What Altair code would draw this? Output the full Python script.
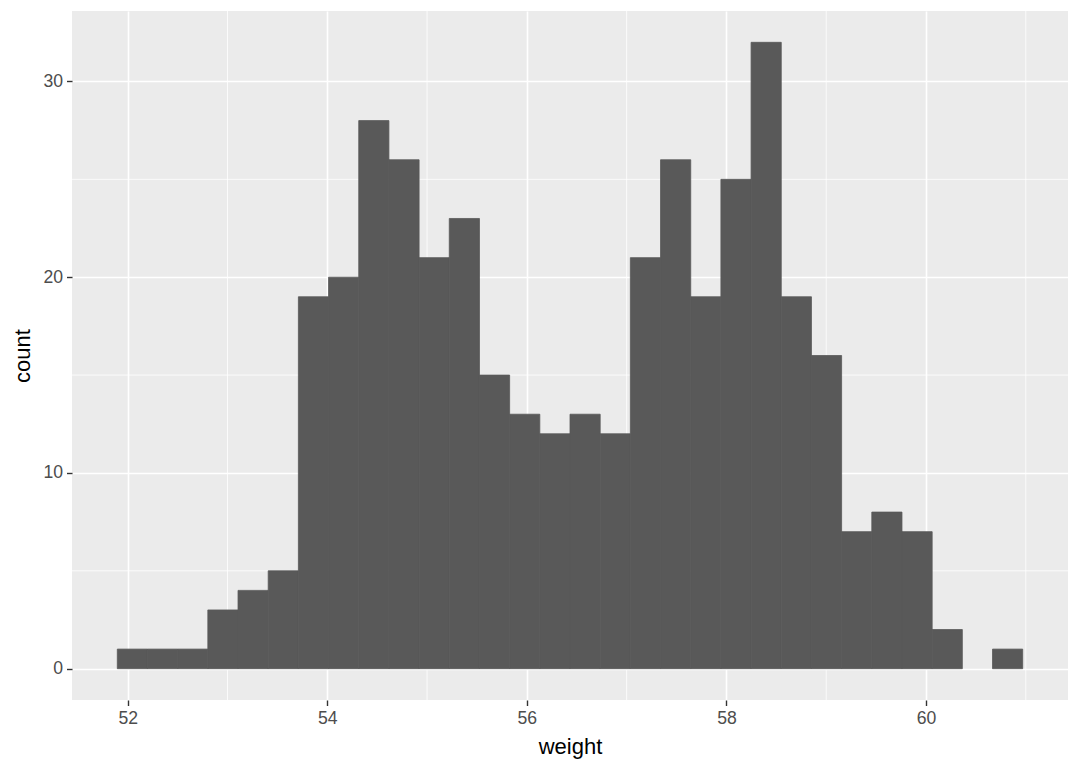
import altair as alt
import pandas as pd
import numpy as np

# Histogram counts (30 bins)
counts = [1, 1, 1, 3, 4, 5, 19, 20, 28, 26, 21, 23, 15, 13, 12,
          13, 12, 21, 26, 19, 25, 32, 19, 16, 7, 8, 7, 2, 0, 1]
bin_lo = 51.896
bin_hi = 60.969
x_major = [52, 54, 56, 58, 60]
x_minor = [53, 55, 57, 59, 61]
y_major = [0, 10, 20, 30]
y_minor = [5, 15, 25]

edges = np.linspace(bin_lo, bin_hi, len(counts) + 1)
df = pd.DataFrame({
    "start": edges[:-1],
    "end": edges[1:],
    "count": counts,
    "zero": [0] * len(counts),
})

xdom = [51.442, 61.423]
ydom = [-1.6, 33.6]
xs = alt.Scale(domain=xdom, nice=False, zero=False)
ys = alt.Scale(domain=ydom, nice=False, zero=False)

xaxis = alt.Axis(title="weight", values=x_major, grid=True, format="d")
yaxis = alt.Axis(title="count", values=y_major, grid=True, format="d")

xminor_df = pd.DataFrame({"start": x_minor})
yminor_df = pd.DataFrame({"count": y_minor})

vminor = alt.Chart(xminor_df).mark_rule(color="white", strokeWidth=0.8).encode(
    x=alt.X("start:Q", scale=xs, axis=xaxis)
)
hminor = alt.Chart(yminor_df).mark_rule(color="white", strokeWidth=0.8).encode(
    y=alt.Y("count:Q", scale=ys, axis=yaxis)
)

bars = alt.Chart(df).transform_filter("datum.count > 0").mark_rect(
    color="#595959", stroke="#595959", strokeWidth=0.8
).encode(
    x=alt.X("start:Q", scale=xs, axis=xaxis),
    x2="end:Q",
    y=alt.Y("count:Q", scale=ys, axis=yaxis),
    y2="zero:Q",
)

chart = alt.layer(vminor, hminor, bars).properties(
    width=996, height=689,
    autosize=alt.AutoSizeParams(type="none"),
    padding={"left": 64, "top": 3, "right": 4, "bottom": 66},
    background="white",
).configure_view(
    fill="#EBEBEB", stroke=None
).configure_axis(
    domain=False,
    gridColor="white",
    gridWidth=1.6,
    tickColor="#333333",
    tickSize=5.5,
    tickWidth=1.4,
    labelFont="Liberation Sans",
    labelFontSize=17.6,
    labelColor="#4D4D4D",
    labelPadding=4,
    titleFont="Liberation Sans",
    titleFontSize=22,
    titleFontWeight="normal",
    titleColor="black",
).configure_axisX(
    titlePadding=9,
).configure_axisY(
    titlePadding=8,
)

chart.save("out.html", embed_options={"renderer": "svg", "actions": False})
